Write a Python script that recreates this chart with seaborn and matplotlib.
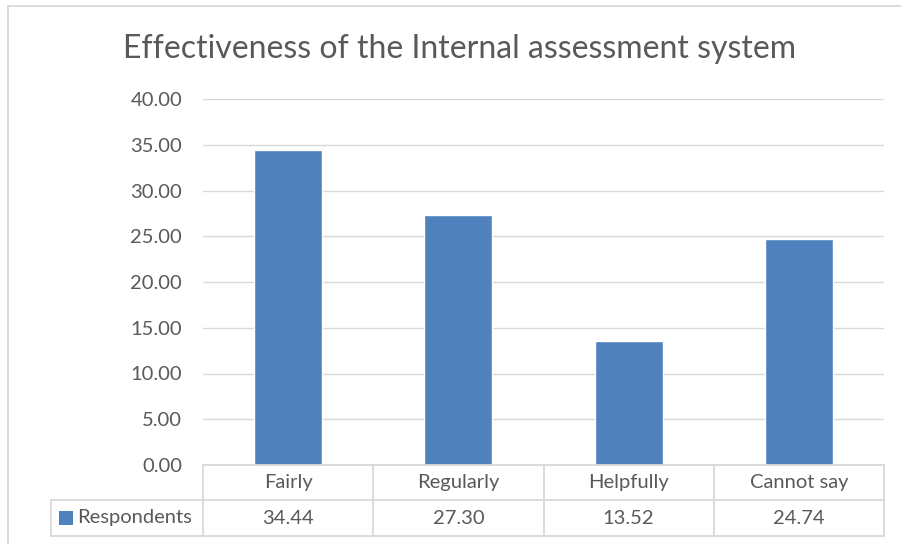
import matplotlib
matplotlib.use("Agg")
import matplotlib.pyplot as plt
from matplotlib.patches import Rectangle
from matplotlib.lines import Line2D
import seaborn as sns
import pandas as pd

categories = ["Fairly", "Regularly", "Helpfully", "Cannot say"]
respondents = [34.44, 27.30, 13.52, 24.74]
series_name = "Respondents"
title = "Effectiveness of the Internal assessment system"
yticks = [0, 5, 10, 15, 20, 25, 30, 35, 40]

BAR = "#4F81BD"
GRID = "#D9D9D9"
TXT = "#595959"

sns.set_theme(style="white")
plt.rcParams["font.family"] = ["Lato", "DejaVu Sans"]

W, H = 901, 544
fig = plt.figure(figsize=(W / 100, H / 100), dpi=100)

def fx(px):
    return px / W

def fy(py):
    return 1 - py / H

# figure border (cropped on right/bottom)
fig.patches.append(Rectangle((fx(8), fy(560)), fx(910) - fx(8), fy(6) - fy(560),
                             transform=fig.transFigure, fill=False,
                             edgecolor=GRID, linewidth=1.3))

L, R, T, B = 203, 884, 99, 465
ax = fig.add_axes([fx(L), fy(B), fx(R) - fx(L), fy(T) - fy(B)])

df = pd.DataFrame({"category": categories, "value": respondents})
sns.barplot(data=df, x="category", y="value", color=BAR, saturation=1,
            width=0.4, ax=ax)

ax.set_ylim(0, 40)
ax.set_xlim(-0.5, len(categories) - 0.5)
ax.set_yticks(yticks)
ax.set_yticklabels([f"{v:.2f}" for v in yticks], color=TXT, fontsize=14.5)
ax.tick_params(axis="y", length=0, pad=15)
ax.set_xticks([])
ax.set_xlabel("")
ax.set_ylabel("")
ax.yaxis.grid(True, color=GRID, linewidth=1)
ax.set_axisbelow(True)
for s in ax.spines.values():
    s.set_visible(False)

fig.text(fx(460), fy(49), title, ha="center", va="center",
         fontsize=23, color=TXT)

# data table below the axes
row1_top, row1_bot, row2_bot = 465, 500, 536
leg_left = 51
col_edges = [L + (R - L) * i / len(categories) for i in range(len(categories) + 1)]

def hline(y, x0, x1):
    fig.add_artist(Line2D([fx(x0), fx(x1)], [fy(y), fy(y)],
                          transform=fig.transFigure, color=GRID, linewidth=1.3))

def vline(x, y0, y1):
    fig.add_artist(Line2D([fx(x), fx(x)], [fy(y0), fy(y1)],
                          transform=fig.transFigure, color=GRID, linewidth=1.3))

hline(row1_top, L, R)
hline(row1_bot, leg_left, R)
hline(row2_bot, leg_left, R)
for x in col_edges:
    vline(x, row1_top, row2_bot)
vline(leg_left, row1_bot, row2_bot)

for i, (cat, val) in enumerate(zip(categories, respondents)):
    cx = (col_edges[i] + col_edges[i + 1]) / 2
    fig.text(fx(cx), fy((row1_top + row1_bot) / 2), cat, ha="center",
             va="center", fontsize=14.5, color=TXT)
    fig.text(fx(cx), fy((row1_bot + row2_bot) / 2), f"{val:.2f}", ha="center",
             va="center", fontsize=14.5, color=TXT)

fig.patches.append(Rectangle((fx(59), fy(525)), fx(73) - fx(59), fy(511) - fy(525),
                             transform=fig.transFigure, facecolor=BAR,
                             edgecolor="none"))
fig.text(fx(77), fy((row1_bot + row2_bot) / 2), series_name, ha="left",
         va="center", fontsize=14.5, color=TXT)

fig.savefig("out.png", dpi=100)
